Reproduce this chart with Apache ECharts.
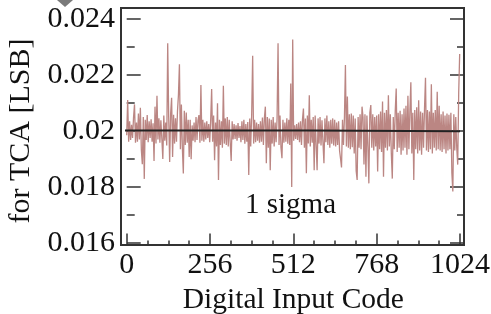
<!DOCTYPE html>
<html>
<head>
<meta charset="utf-8">
<script src="https://cdn.jsdelivr.net/npm/echarts@6/dist/echarts.min.js"></script>
<style>
  html, body { margin: 0; padding: 0; background: #fff; }
  #chart { width: 491px; height: 314px; }
</style>
</head>
<body>
<div id="chart"></div>
<script>
// tick labels
const xTicks = [0, 256, 512, 768, 1024]
const yTicks = [0.016, 0.018, 0.02, 0.022, 0.024]

// TCA value read every 3rd input code (0, 3, 6 ... 1023)
const tca = [
  0.01985, 0.02111, 0.01962, 0.02035, 0.01968, 0.02022, 0.01975, 0.02048, 0.02095, 0.01958,
  0.02030, 0.01962, 0.02062, 0.01970, 0.02083, 0.01932, 0.01881, 0.02050, 0.01829, 0.02040,
  0.01968, 0.02057, 0.01960, 0.02035, 0.01975, 0.02042, 0.01962, 0.02028, 0.01893, 0.02087,
  0.01955, 0.02126, 0.01970, 0.02045, 0.01958, 0.02038, 0.01972, 0.01900, 0.02055, 0.01965,
  0.02030, 0.01948, 0.02313, 0.02050, 0.01889, 0.02062, 0.02119, 0.01907, 0.02058, 0.01955,
  0.02045, 0.01962, 0.02070, 0.02129, 0.02238, 0.01935, 0.02095, 0.01940, 0.01848, 0.02072,
  0.01950, 0.02066, 0.01958, 0.02040, 0.01907, 0.02040, 0.01899, 0.02020, 0.01965, 0.02030,
  0.01960, 0.02050, 0.01968, 0.02038, 0.02057, 0.01958, 0.02164, 0.01965, 0.02040, 0.01962,
  0.02030, 0.01970, 0.02035, 0.01975, 0.02025, 0.01960, 0.02038, 0.02150, 0.01962, 0.02055,
  0.01896, 0.02030, 0.01945, 0.02099, 0.01825, 0.02040, 0.01950, 0.02035, 0.01940, 0.02162,
  0.01955, 0.02045, 0.01950, 0.02050, 0.01945, 0.02040, 0.01960, 0.01893, 0.02035, 0.01970,
  0.02025, 0.01972, 0.02020, 0.01965, 0.02028, 0.01975, 0.02018, 0.01960, 0.02035, 0.01968,
  0.02040, 0.01955, 0.02025, 0.01962, 0.02032, 0.01843, 0.02045, 0.01945, 0.02060, 0.02269,
  0.01955, 0.02040, 0.01960, 0.02030, 0.01965, 0.02025, 0.01958, 0.02035, 0.01962, 0.02048,
  0.01950, 0.02045, 0.02087, 0.01885, 0.02050, 0.01940, 0.02045, 0.01860, 0.02040, 0.01955,
  0.02050, 0.01945, 0.02030, 0.01960, 0.02045, 0.02313, 0.01950, 0.02055, 0.01940, 0.01903,
  0.02040, 0.01958, 0.02030, 0.01962, 0.02045, 0.01955, 0.02040, 0.01950, 0.02170, 0.01800,
  0.02327, 0.01965, 0.02020, 0.01972, 0.02025, 0.01968, 0.02030, 0.01960, 0.02035, 0.01950,
  0.02040, 0.02080, 0.01940, 0.02045, 0.01849, 0.02055, 0.01955, 0.02128, 0.01945, 0.02040,
  0.01958, 0.02050, 0.01860, 0.02055, 0.01950, 0.01860, 0.02045, 0.01955, 0.02050, 0.01948,
  0.02038, 0.01960, 0.01885, 0.02045, 0.01960, 0.02055, 0.01950, 0.02035, 0.01940, 0.02040,
  0.01955, 0.02045, 0.01948, 0.02040, 0.01945, 0.02030, 0.01950, 0.02035, 0.01930, 0.01901,
  0.01870, 0.02040, 0.01950, 0.02050, 0.02236, 0.01945, 0.02123, 0.01940, 0.02060, 0.01935,
  0.02062, 0.01942, 0.02055, 0.01920, 0.02045, 0.01857, 0.01825, 0.02050, 0.01940, 0.02060,
  0.01935, 0.02087, 0.02050, 0.01880, 0.02060, 0.01837, 0.02055, 0.01945, 0.01813, 0.02065,
  0.02093, 0.01940, 0.02060, 0.01930, 0.02050, 0.01945, 0.02055, 0.01855, 0.02060, 0.01935,
  0.02070, 0.01925, 0.02105, 0.01837, 0.02065, 0.01940, 0.02075, 0.01930, 0.02128, 0.01945,
  0.02060, 0.01920, 0.01830, 0.02050, 0.01935, 0.02070, 0.02152, 0.01925, 0.02065, 0.01940,
  0.02072, 0.01915, 0.02060, 0.01930, 0.02080, 0.01940, 0.02090, 0.01915, 0.02126, 0.01935,
  0.02070, 0.02174, 0.01920, 0.02065, 0.01825, 0.02075, 0.01935, 0.02085, 0.01920, 0.02110,
  0.01930, 0.02070, 0.01915, 0.02065, 0.01940, 0.02080, 0.02190, 0.01930, 0.02075, 0.01925,
  0.02070, 0.01935, 0.02167, 0.01920, 0.02065, 0.01940, 0.02075, 0.01930, 0.02140, 0.01935,
  0.02090, 0.01930, 0.02060, 0.01925, 0.02070, 0.01935, 0.02055, 0.01920, 0.02062, 0.01930,
  0.02058, 0.01935, 0.02065, 0.01850, 0.01784, 0.02060, 0.01930, 0.02050, 0.01940, 0.01880,
  0.02136, 0.02275
]
const codeStep = 3

// black reference line (slight step near code 557)
const refCodes = [-17.5, 557, 557, 1024]
const refValues = [0.02002, 0.02002, 0.01999, 0.01999]

const font = 'Liberation Serif'
const tickColor = '#333'

const chart = echarts.init(document.getElementById('chart'))

const option = {
  animation: false,
  backgroundColor: '#fff',
  grid: [
    // outer frame
    { left: 121, right: 27, top: 8, bottom: 69, show: true, borderColor: '#333', borderWidth: 2,
      backgroundColor: 'transparent', containLabel: false, outerBoundsMode: 'none' },
    // data area (0..1024, 0.016..0.024)
    { left: 126.7, right: 31, top: 19, bottom: 71, containLabel: false, outerBoundsMode: 'none' }
  ],
  xAxis: [
    { gridIndex: 0, type: 'value', min: 0, max: 1, show: false },
    {
      gridIndex: 1, type: 'value', position: 'bottom', offset: 2.5,
      min: xTicks[0], max: xTicks[xTicks.length - 1], interval: xTicks[1] - xTicks[0],
      axisLine: { show: false },
      axisTick: { show: true, inside: true, length: 12, lineStyle: { color: tickColor, width: 1.5 } },
      minorTick: { show: true, splitNumber: 4, length: 5, lineStyle: { color: tickColor, width: 1.5 } },
      splitLine: { show: false },
      axisLabel: { margin: 5, fontFamily: font, fontSize: 30, color: '#111', hideOverlap: false,
        showMinLabel: true, showMaxLabel: true, formatter: v => String(v) },
      name: 'Digital Input Code', nameLocation: 'middle', nameGap: 30,
      nameTextStyle: { fontFamily: font, fontSize: 29.5, color: '#111' }
    }
  ],
  yAxis: [
    { gridIndex: 0, type: 'value', min: 0, max: 1, show: false },
    {
      gridIndex: 1, type: 'value', position: 'left', offset: 5.7,
      min: yTicks[0], max: yTicks[yTicks.length - 1], interval: yTicks[1] - yTicks[0],
      axisLine: { show: false },
      axisTick: { show: true, inside: true, length: 14, lineStyle: { color: tickColor, width: 1.5 } },
      minorTick: { show: true, splitNumber: 2, length: 8, lineStyle: { color: tickColor, width: 1.5 } },
      splitLine: { show: false },
      axisLabel: { margin: 6, fontFamily: font, fontSize: 30, color: '#111',
        formatter: v => String(+v.toFixed(3)) },
      name: 'for TCA [LSB]', nameLocation: 'middle', nameRotate: 90, nameGap: 79,
      nameTextStyle: { fontFamily: font, fontSize: 30, color: '#111' }
    },
    {
      gridIndex: 1, type: 'value', position: 'right', offset: 4,
      min: yTicks[0], max: yTicks[yTicks.length - 1], interval: yTicks[1] - yTicks[0],
      axisLine: { show: false },
      axisTick: { show: true, inside: true, length: 14, lineStyle: { color: tickColor, width: 1.5 } },
      minorTick: { show: true, splitNumber: 2, length: 7, lineStyle: { color: tickColor, width: 1.5 } },
      splitLine: { show: false },
      axisLabel: { show: false }
    }
  ],
  graphic: [
    {
      type: 'text', left: 245, top: 191,
      style: { text: '1 sigma', font: '29px "Liberation Serif"', fill: '#111' }
    },
    {
      type: 'polygon',
      shape: { points: [[57, 0], [73, 0], [65, 7]] },
      style: { fill: '#7a7a7a' }
    }
  ],
  series: [
    {
      type: 'line', xAxisIndex: 1, yAxisIndex: 1,
      data: tca.map((v, i) => [i * codeStep, v]),
      showSymbol: false, sampling: null,
      lineStyle: { color: '#bb8683', width: 1.3 },
      z: 2
    },
    {
      type: 'line', xAxisIndex: 1, yAxisIndex: 1, clip: false,
      data: refCodes.map((c, i) => [c, refValues[i]]),
      showSymbol: false,
      lineStyle: { color: '#222', width: 2 },
      z: 3
    }
  ]
}

chart.setOption(option)
</script>
</body>
</html>
